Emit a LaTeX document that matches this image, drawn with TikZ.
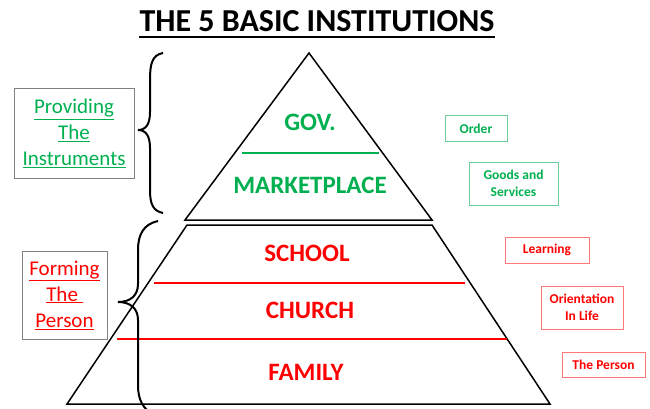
\documentclass[tikz,border=0pt]{standalone}
\usepackage{fontspec}
\setmainfont{Carlito}
\definecolor{mygreen}{RGB}{0,176,80}
\definecolor{boxgreen}{RGB}{110,205,150}
\definecolor{myred}{RGB}{255,0,0}
\definecolor{boxred}{RGB}{255,120,120}
\tikzset{
  lvl/.style={font=\fontsize{25}{30}\selectfont\bfseries},
  tagbox/.style={draw, line width=1pt, font=\fontsize{13.5}{17.5}\selectfont\bfseries, align=center, inner sep=1pt},
  sidebox/.style={draw=gray, line width=1pt, font=\fontsize{21}{26}\selectfont, align=center, inner sep=1pt},
  bracket/.style={line width=2pt},
  pyr/.style={line width=1.5pt},
}
\begin{document}
\begin{tikzpicture}[x=1pt,y=-1pt]
        \fill[white] (0,0) rectangle (650,409);
        \useasboundingbox (0,0) rectangle (650,409);
        % title
        \node[font=\fontsize{32}{38}\selectfont\bfseries, anchor=base, inner sep=0pt](title) at (317,32){THE 5 BASIC INSTITUTIONS};
        \draw[line width=2.5pt] ([yshift=-5pt]title.base west) -- ([yshift=-5pt]title.base east);
        % pyramid
        \draw[pyr] (309,53) -- (432,220) -- (185,220) -- cycle;
        \draw[pyr] (187,225) -- (432,225) -- (550,404) -- (67,404) -- cycle;
        \draw[mygreen, line width=2.5pt] (242,153) -- (379,153);
        \draw[myred, line width=2.5pt] (154,283) -- (465,283);
        \draw[myred, line width=2.5pt] (117,339) -- (507,339);
        \node[lvl, mygreen](gov) at (310,122){GOV.};
        \node[lvl, mygreen](market) at (310,185){MARKETPLACE};
        \node[lvl, myred](school) at (307,253){SCHOOL};
        \node[lvl, myred](church) at (310,310){CHURCH};
        \node[lvl, myred](family) at (306,372){FAMILY};
        % braces
        \draw[bracket] (163,53) .. controls (152,55) and (150,64) .. (150,80) -- (150,112)
            .. controls (150,124) and (146,130) .. (138,130)
            .. controls (146,130) and (150,136) .. (150,148) -- (150,190)
            .. controls (150,204) and (153,211) .. (163,213);
        \draw[bracket] (158,221) .. controls (144,224) and (138,234) .. (138,250) -- (138,284)
            .. controls (138,296) and (130,302) .. (118,302)
            .. controls (130,302) and (138,308) .. (138,320) -- (138,385)
            .. controls (138,400) and (143,408) .. (152,414);
        % left boxes
        \node[sidebox, text=mygreen, minimum width=120pt, minimum height=89pt](provide) at (74,133.5)
            {\underline{Providing}\\\underline{The}\\\underline{Instruments}};
        \node[sidebox, text=myred, minimum width=85pt, minimum height=88pt](forming) at (64.5,295)
            {\underline{Forming}\\\underline{The~}\\\underline{Person}};
        % right boxes
        \node[tagbox, draw=boxgreen, text=mygreen, minimum width=62pt, minimum height=25pt](order) at (476,128.5){Order};
        \node[tagbox, draw=boxgreen, text=mygreen, minimum width=89pt, minimum height=43pt](goods) at (513.5,183.5){Goods and\\Services};
        \node[tagbox, draw=boxred, text=myred, minimum width=84pt, minimum height=26pt](learning) at (547,250){Learning};
        \node[tagbox, draw=boxred, text=myred, minimum width=82pt, minimum height=43pt](orient) at (582,307.5){Orientation\\In Life};
        \node[tagbox, draw=boxred, text=myred, minimum width=83pt, minimum height=25pt](person) at (603.5,364.5){The Person};
    \end{tikzpicture}
\end{document}
